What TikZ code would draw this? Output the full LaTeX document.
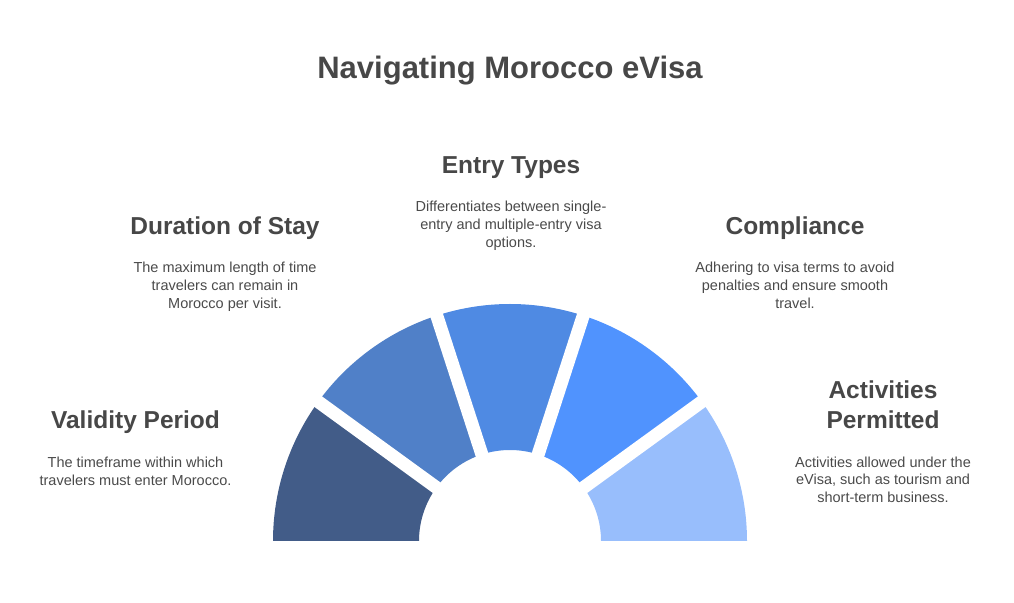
\documentclass[tikz,border=0pt]{standalone}
\usepackage{fontspec}
\setmainfont{Liberation Sans}
\usetikzlibrary{positioning,calc}
\definecolor{headgray}{HTML}{474747}
\definecolor{bodygray}{HTML}{4A4A4A}
\definecolor{segone}{HTML}{425C88}
\definecolor{segtwo}{HTML}{5080C8}
\definecolor{segthree}{HTML}{4F8AE3}
\definecolor{segfour}{HTML}{5093FE}
\definecolor{segfive}{HTML}{98BEFC}
\tikzset{
    titletext/.style = {font=\fontsize{31}{37}\selectfont\bfseries, text=headgray, inner sep=0pt, anchor=base},
    headtext/.style  = {font=\fontsize{24.5}{30}\selectfont\bfseries, text=headgray, inner sep=0pt, anchor=base, align=center},
    bodytext/.style  = {font=\fontsize{14.5}{17.8}\selectfont, text=bodygray, inner sep=0pt, align=center},
    fangap/.style    = {white, line width=13pt},
}

\begin{document}
\begin{tikzpicture}[x=1pt,y=1pt]
        \useasboundingbox (0,0) rectangle (1014,602);
        \coordinate (O) at (510,61);

        % fan segments
        \foreach \a/\col in {180/segone, 144/segtwo, 108/segthree, 72/segfour, 36/segfive}{
            \fill[\col] ($(O)+(\a:237)$) arc[start angle=\a, delta angle=-36, radius=237]
                -- ($(O)+({\a-36}:91)$) arc[start angle={\a-36}, delta angle=36, radius=91] -- cycle;
        }
        \foreach \a in {144,108,72,36}{
            \draw[fangap] ($(O)+(\a:85)$) -- ($(O)+(\a:246)$);
        }

        \node[titletext] (title) at (510,523) {Navigating Morocco eVisa};

        \node[headtext] (validity) at (135.5,173) {Validity Period};
        \node[bodytext, below=22.5pt of validity] (validitytxt) {The timeframe within which\\travelers must enter Morocco.};

        \node[headtext] (duration) at (225,367) {Duration of Stay};
        \node[bodytext, below=21.8pt of duration] (durationtxt) {The maximum length of time\\travelers can remain in\\Morocco per visit.};

        \node[headtext] (entry) at (511,428) {Entry Types};
        \node[bodytext, below=21.8pt of entry] (entrytxt) {Differentiates between single-\\entry and multiple-entry visa\\options.};

        \node[headtext] (compliance) at (795,367) {Compliance};
        \node[bodytext, below=21.8pt of compliance] (compliancetxt) {Adhering to visa terms to avoid\\penalties and ensure smooth\\travel.};

        \node[headtext] (activities) at (883,173) {Activities\\Permitted};
        \node[bodytext, below=27pt of activities] (activitiestxt) {Activities allowed under the\\eVisa, such as tourism and\\short-term business.};
\end{tikzpicture}
\end{document}
